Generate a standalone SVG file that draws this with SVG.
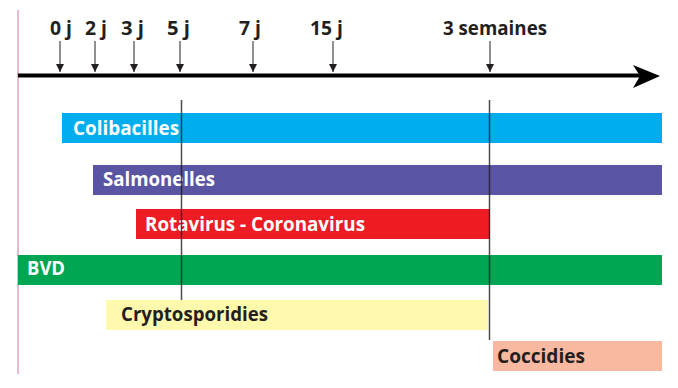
<svg xmlns="http://www.w3.org/2000/svg" width="678" height="388" viewBox="0 0 678 388">
<defs>
<style>
.lbl{font-family:"Open Sans","Noto Sans","Liberation Sans",sans-serif;font-weight:700;font-size:20px}
.w{fill:#ffffff}
.d{fill:#231f20}
.tick{font-family:"Open Sans","Noto Sans","Liberation Sans",sans-serif;font-weight:700;font-size:20px;fill:#231f20}
.ar{stroke:#231f20;stroke-width:1;fill:none}
.vl{stroke:#231f20;stroke-width:1.5;opacity:0.8}
</style>
<marker id="ah" viewBox="0 0 8 8" refX="8" refY="4" markerWidth="8" markerHeight="8" markerUnits="userSpaceOnUse" orient="auto">
<path d="M0,0 L8,4 L0,8 Z" fill="#231f20"/>
</marker>
</defs>
<rect width="678" height="388" fill="#ffffff"/>
<line x1="18" y1="10" x2="18" y2="374" stroke="#d98aa0" stroke-width="1.2"/>
<g id="axis">
<line x1="18" y1="75.5" x2="640" y2="75.5" stroke="#000000" stroke-width="4"/>
<path d="M633,65 L660,76 L633,88 L640,76 Z" fill="#000000"/>
</g>
<g id="ticks">
<text class="tick" x="50" y="35" textLength="22" lengthAdjust="spacingAndGlyphs">0 j</text>
<text class="tick" x="85" y="35" textLength="22" lengthAdjust="spacingAndGlyphs">2 j</text>
<text class="tick" x="121" y="35" textLength="23" lengthAdjust="spacingAndGlyphs">3 j</text>
<text class="tick" x="167" y="35" textLength="23" lengthAdjust="spacingAndGlyphs">5 j</text>
<text class="tick" x="239" y="35" textLength="22" lengthAdjust="spacingAndGlyphs">7 j</text>
<text class="tick" x="310" y="35" textLength="33" lengthAdjust="spacingAndGlyphs">15 j</text>
<text class="tick" x="443" y="35" textLength="104" lengthAdjust="spacingAndGlyphs">3 semaines</text>
</g>
<g id="connectors">
<line class="ar" x1="60" y1="41" x2="60" y2="72" marker-end="url(#ah)"/>
<line class="ar" x1="95" y1="41" x2="95" y2="72" marker-end="url(#ah)"/>
<line class="ar" x1="134" y1="41" x2="134" y2="72" marker-end="url(#ah)"/>
<line class="ar" x1="180" y1="41" x2="180" y2="72" marker-end="url(#ah)"/>
<line class="ar" x1="253" y1="41" x2="253" y2="72" marker-end="url(#ah)"/>
<line class="ar" x1="333" y1="41" x2="333" y2="72" marker-end="url(#ah)"/>
<line class="ar" x1="490" y1="41" x2="490" y2="72" marker-end="url(#ah)"/>
</g>
<g id="colibacilles">
<rect x="62" y="113" width="600" height="30" fill="#00aeef"/>
<text class="lbl w" x="73" y="135" textLength="106" lengthAdjust="spacingAndGlyphs">Colibacilles</text>
</g>
<g id="salmonelles">
<rect x="93" y="165" width="569" height="30" fill="#5a55a3"/>
<text class="lbl w" x="103" y="186" textLength="112" lengthAdjust="spacingAndGlyphs">Salmonelles</text>
</g>
<g id="rotavirus">
<rect x="136" y="209" width="354" height="30" fill="#ed1c24"/>
<text class="lbl w" x="145" y="231" textLength="220" lengthAdjust="spacingAndGlyphs">Rotavirus - Coronavirus</text>
</g>
<g id="bvd">
<rect x="18" y="255" width="644" height="30" fill="#00a651"/>
<text class="lbl w" x="27" y="275" textLength="38" lengthAdjust="spacingAndGlyphs">BVD</text>
</g>
<g id="cryptosporidies">
<rect x="106" y="300" width="382" height="30" fill="#fff9ae"/>
<text class="lbl d" x="121" y="321" textLength="147" lengthAdjust="spacingAndGlyphs">Cryptosporidies</text>
</g>
<g id="coccidies">
<rect x="493" y="341" width="169" height="30" fill="#f9b8a0"/>
<text class="lbl d" x="497" y="363" textLength="88" lengthAdjust="spacingAndGlyphs">Coccidies</text>
</g>
<g id="guides">
<line class="vl" x1="181.5" y1="100" x2="181.5" y2="300"/>
<line class="vl" x1="489.5" y1="100" x2="489.5" y2="340"/>
</g>
</svg>
